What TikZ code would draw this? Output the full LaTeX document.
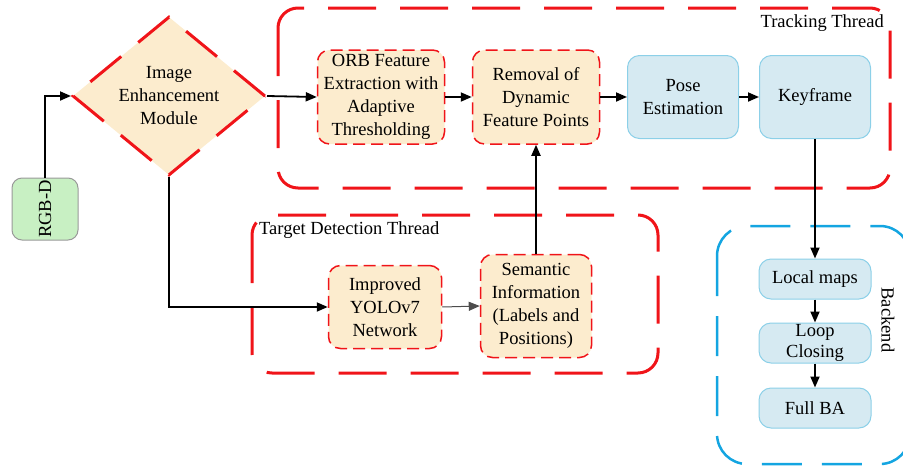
\documentclass[tikz,border=0pt]{standalone}
\usepackage{fontspec}
\setmainfont{Liberation Serif}
\usetikzlibrary{arrows.meta,shapes.geometric}
\definecolor{redd}{RGB}{240,20,25}
\definecolor{wheatf}{RGB}{252,236,206}
\definecolor{bluef}{RGB}{214,234,242}
\definecolor{blued}{RGB}{140,208,232}
\definecolor{cyand}{RGB}{20,165,225}
\definecolor{greenf}{RGB}{200,240,195}
\begin{document}
\begin{tikzpicture}[x=1pt,y=-1pt,
  font=\fontsize{18.5}{23}\selectfont,
  thread/.style={draw=redd,line width=3pt,dash pattern=on 48pt off 24pt,rounded corners=20pt},
  redbox/.style={draw=redd,line width=1.5pt,dash pattern=on 12pt off 6pt,fill=wheatf,rounded corners=12pt,align=center,inner sep=0pt},
  bluebox/.style={draw=blued,line width=1pt,fill=bluef,rounded corners=12pt,align=center,inner sep=0pt},
  arr/.style={line width=1.8pt,-{Triangle[length=11pt,width=9pt]}},
  conn/.style={line width=1.8pt}]
\useasboundingbox (0,0) rectangle (903,469);
% thread frames
\draw[thread] (278,8) rectangle (890,188);
\node[anchor=north east,inner sep=0pt] (tt) at (884,14) {Tracking Thread};
\draw[thread] (252,215) rectangle (658,373);
\node[anchor=north west,inner sep=0pt] (td) at (259,221) {Target Detection Thread};
\draw[draw=cyand,line width=2.5pt,dash pattern=on 40pt off 20pt,rounded corners=30pt] (717,226) rectangle (910,464);
\node[rotate=-90,inner sep=0pt] (be) at (888,320) {Backend};
% nodes
\node[draw=gray!80,line width=1pt,fill=greenf,rounded corners=10pt,minimum width=66pt,minimum height=62pt,inner sep=0pt] (rgbd) at (45,209) {};
\node[rotate=90,inner sep=0pt] at (rgbd) {RGB-D};
\node[diamond,draw=redd,line width=3pt,dash pattern=on 40pt off 22pt,fill=wheatf,minimum width=193pt,minimum height=127pt,inner sep=0pt,align=center] (ie) at (169,96) {Image\\Enhancement\\Module};
\node[redbox,minimum width=127pt,minimum height=94pt] (orb) at (381,97) {ORB Feature\\Extraction with\\Adaptive\\Thresholding};
\node[redbox,minimum width=127pt,minimum height=94pt] (rem) at (536,97) {Removal of\\Dynamic\\Feature Points};
\node[bluebox,minimum width=111pt,minimum height=83pt] (pose) at (683,97) {Pose\\Estimation};
\node[bluebox,minimum width=111pt,minimum height=83pt] (kf) at (815,97) {Keyframe};
\node[redbox,minimum width=113pt,minimum height=83pt] (yolo) at (385,307) {Improved\\YOLOv7\\Network};
\node[redbox,minimum width=111pt,minimum height=103pt] (sem) at (536,306) {Semantic\\Information\\(Labels and\\Positions)};
\node[bluebox,minimum width=112pt,minimum height=40pt] (lm) at (815,279) {Local maps};
\node[bluebox,minimum width=112pt,minimum height=40pt,font=\fontsize{18.5}{21}\selectfont] (lc) at (815,343) {Loop\\Closing};
\node[bluebox,minimum width=112pt,minimum height=40pt] (ba) at (815,408) {Full BA};
% connectors
\draw[arr] (rgbd.north) |- (ie.west);
\draw[arr] (ie.east) -- (orb.west);
\draw[arr] (orb.east) -- (rem.west);
\draw[arr] (rem.east) -- (pose.west);
\draw[arr] (pose.east) -- (kf.west);
\draw[arr] (ie.south) |- (yolo.west);
\draw[line width=1pt,draw=black!70,-{Triangle[length=11pt,width=9pt]}] (yolo.east) -- (sem.west);
\draw[arr] (sem.north) -- (rem.south);
\draw[arr] (kf.south) -- (lm.north);
\draw[arr] (lm.south) -- (lc.north);
\draw[arr] (lc.south) -- (ba.north);
\end{tikzpicture}
\end{document}
